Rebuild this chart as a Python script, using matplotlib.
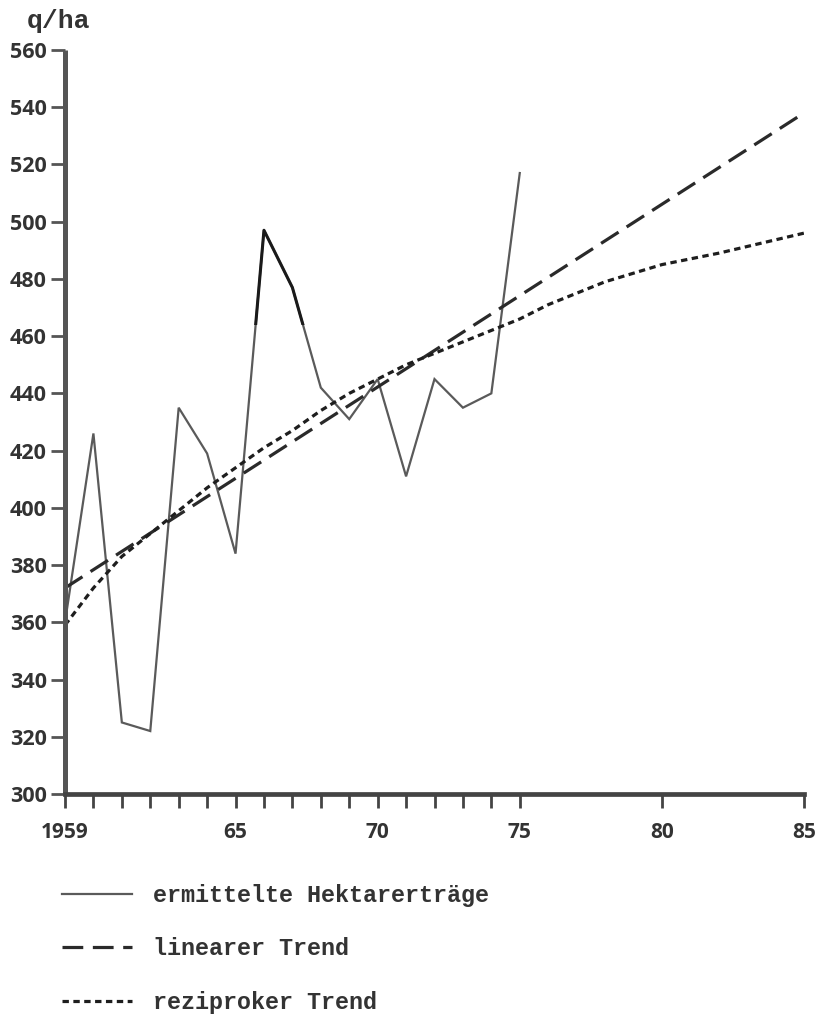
import matplotlib
matplotlib.use('Agg')
import matplotlib.pyplot as plt
from matplotlib.patches import Rectangle

# ermittelte Hektarertraege
years = list(range(1959, 1976))
yields = [360, 426, 325, 322, 435, 419, 384, 497, 477, 442, 431, 445, 411, 445, 435, 440, 517]

# linearer Trend (end points)
lin_years = [1959, 1985]
lin_values = [372, 538]

# reziproker Trend
rec_years = [1959, 1960, 1961, 1962, 1963, 1964, 1965, 1966, 1967, 1968, 1969, 1970,
             1971, 1972, 1973, 1974, 1975, 1976, 1978, 1980, 1982, 1985]
rec_values = [359, 372, 383, 391, 399, 407, 414, 421, 427, 434, 440, 445,
              450, 454, 458, 462, 466, 471, 479, 485, 489, 496]

x_ticks = list(range(1959, 1976)) + [1980, 1985]
x_labels = {1959: '1959', 1965: '65', 1970: '70', 1975: '75', 1980: '80', 1985: '85'}
y_ticks = list(range(300, 561, 20))

mono = 'Liberation Mono'
sans = 'Open Sans'

fig = plt.figure(figsize=(8.23, 10.17), dpi=100)
ax = fig.add_axes([65 / 823, 1 - 794 / 1017, (804 - 65) / 823, 744 / 1017])

l1, = ax.plot(years, yields, color='#5a5a5a', lw=1.6, solid_joinstyle='miter',
              label='ermittelte Hektarerträge')
# darker ink around the 1966 peak in the print
dark, = ax.plot(years, yields, color='#1a1a1a', lw=2.2)
dark.set_clip_path(Rectangle((1965, 464), 3, 100, transform=ax.transData))

l2, = ax.plot(lin_years, lin_values, color='#2a2a2a', lw=2.3, dashes=(6.5, 3),
              label='linearer Trend')
l3, = ax.plot(rec_years, rec_values, color='#1e1e1e', lw=2.3, dashes=(2.0, 1.4),
              label='reziproker Trend')

ax.set_xlim(1959, 1985)
ax.set_ylim(300, 560)
ax.spines['top'].set_visible(False)
ax.spines['right'].set_visible(False)
ax.spines['left'].set_linewidth(3.6)
ax.spines['left'].set_color('#555555')
ax.spines['bottom'].set_linewidth(3.4)
ax.spines['bottom'].set_color('#444444')
ax.spines['left'].set_capstyle('butt')

ax.set_yticks(y_ticks)
ax.set_yticklabels([str(v) for v in y_ticks], fontfamily=sans, fontweight='bold',
                   fontsize=15.5, color='#333333')
ax.tick_params(axis='y', direction='out', length=10, width=2, color='#555555', pad=3)

ax.set_xticks(x_ticks)
ax.set_xticklabels([x_labels.get(t, '') for t in x_ticks], fontfamily=sans,
                   fontweight='bold', fontsize=15, color='#333333')
ax.tick_params(axis='x', direction='out', length=10, width=2, color='#444444', pad=10)

fig.text(27 / 823, 1 - 21 / 1017, 'q/ha', fontfamily=mono, fontweight='bold',
         fontsize=19, color='#333333', ha='left', va='center')

leg = fig.legend(handles=[l1, l2, l3], loc='upper left',
                 bbox_to_anchor=(62 / 823, 1 - 884 / 1017), frameon=False,
                 prop={'family': mono, 'weight': 'bold', 'size': 16.8},
                 handlelength=3.0, handletextpad=0.9, labelspacing=1.3,
                 borderaxespad=0, borderpad=0)
for t in leg.get_texts():
    t.set_color('#333333')

fig.savefig('out.png', dpi=100, facecolor='white')
